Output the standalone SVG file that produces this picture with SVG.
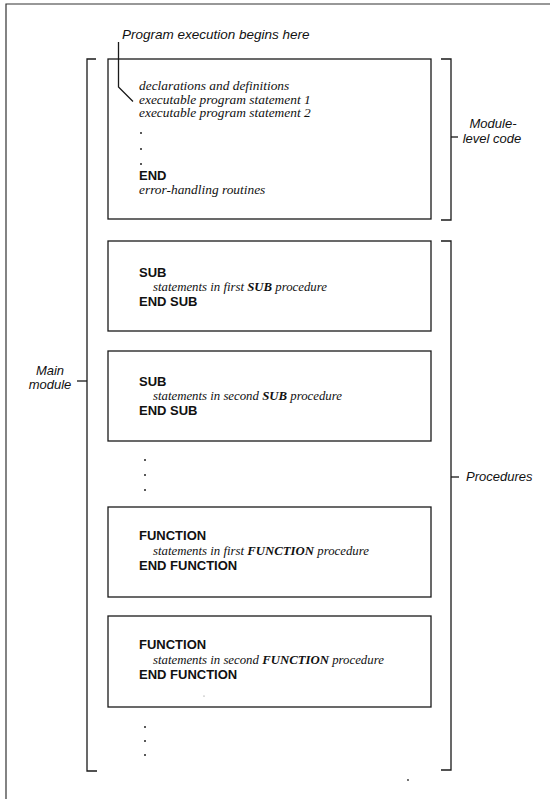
<svg xmlns="http://www.w3.org/2000/svg" width="550" height="799" viewBox="0 0 550 799">
<style>
.frame{fill:none;stroke:#333;stroke-width:1.2}
.box{fill:none;stroke:#1a1a1a;stroke-width:1.3}
.br{fill:none;stroke:#1a1a1a;stroke-width:1.3}
.lbl{font-family:"Liberation Sans",Arial,sans-serif;font-style:italic;font-size:13px;fill:#111}
.top{font-size:13.5px}
.it{font-family:"Liberation Serif","Times New Roman",serif;font-style:italic;font-size:13.4px;fill:#111}
.it2{font-family:"Liberation Serif","Times New Roman",serif;font-style:italic;font-size:12.8px;fill:#111}
.kw{font-family:"Liberation Sans",Arial,sans-serif;font-weight:bold;font-size:13px;fill:#111}
.b{font-weight:bold}
.dot{fill:#222}
</style>
<rect width="550" height="799" fill="#fff"/>
<path class="frame" d="M6,799 V4 H550"/>

<g id="start-label">
  <text class="lbl top" x="122" y="38.5">Program execution begins here</text>
</g>

<g id="main-module-label">
  <text class="lbl" x="50" y="375" text-anchor="middle">Main</text>
  <text class="lbl" x="50" y="389" text-anchor="middle">module</text>
</g>

<g id="module-level-label">
  <text class="lbl" x="493" y="128" text-anchor="middle">Module-</text>
  <text class="lbl" x="492" y="143" text-anchor="middle">level code</text>
</g>

<g id="procedures-label">
  <text class="lbl" x="466" y="481">Procedures</text>
</g>

<g id="module-level-code">
  <rect class="box" x="108" y="59" width="323" height="160"/>
  <text class="it" x="139" y="90">declarations and definitions</text>
  <text class="it" x="139" y="103.5">executable program statement 1</text>
  <text class="it" x="139" y="117">executable program statement 2</text>
  <circle class="dot" cx="141" cy="133" r="1"/>
  <circle class="dot" cx="141" cy="149" r="1"/>
  <circle class="dot" cx="141" cy="164" r="1"/>
  <text class="kw" x="139" y="180">END</text>
  <text class="it" x="139" y="193.5">error-handling routines</text>
</g>

<g id="sub1">
  <rect class="box" x="108" y="241" width="323" height="90"/>
  <text class="kw" x="139" y="277">SUB</text>
  <text class="it2" x="153" y="291">statements in first <tspan class="b">SUB</tspan> procedure</text>
  <text class="kw" x="139" y="305.5">END SUB</text>
</g>

<g id="sub2">
  <rect class="box" x="108" y="351" width="323" height="90"/>
  <text class="kw" x="139" y="386">SUB</text>
  <text class="it2" x="153" y="400">statements in second <tspan class="b">SUB</tspan> procedure</text>
  <text class="kw" x="139" y="414.5">END SUB</text>
</g>

<g id="ellipsis1">
  <circle class="dot" cx="145" cy="460" r="1"/>
  <circle class="dot" cx="145" cy="475" r="1"/>
  <circle class="dot" cx="145" cy="490" r="1"/>
</g>

<g id="function1">
  <rect class="box" x="108" y="507" width="323" height="90"/>
  <text class="kw" x="139" y="540">FUNCTION</text>
  <text class="it2" x="153" y="555">statements in first <tspan class="b">FUNCTION</tspan> procedure</text>
  <text class="kw" x="139" y="569.5">END FUNCTION</text>
</g>

<g id="function2">
  <rect class="box" x="108" y="616" width="323" height="91"/>
  <text class="kw" x="139" y="649">FUNCTION</text>
  <text class="it2" x="153" y="664">statements in second <tspan class="b">FUNCTION</tspan> procedure</text>
  <text class="kw" x="139" y="678.5">END FUNCTION</text>
  <circle cx="204" cy="696" r="0.6" fill="#777"/>
</g>

<g id="ellipsis2">
  <circle class="dot" cx="145" cy="727" r="1"/>
  <circle class="dot" cx="145" cy="741" r="1"/>
  <circle class="dot" cx="145" cy="755" r="1"/>
</g>

<circle cx="408" cy="780" r="0.9" fill="#333"/>

<g id="connectors">
  <path class="br" d="M118.5,42 V87 L133,101.5"/>
  <path class="br" d="M96,59 H87 V771 H97"/>
  <path class="br" d="M77,381 H87"/>
  <path class="br" d="M441,59 H451 V220 H441"/>
  <path class="br" d="M451,137 H458"/>
  <path class="br" d="M441,241 H451 V770 H441"/>
  <path class="br" d="M451,477 H459"/>
</g>
</svg>
